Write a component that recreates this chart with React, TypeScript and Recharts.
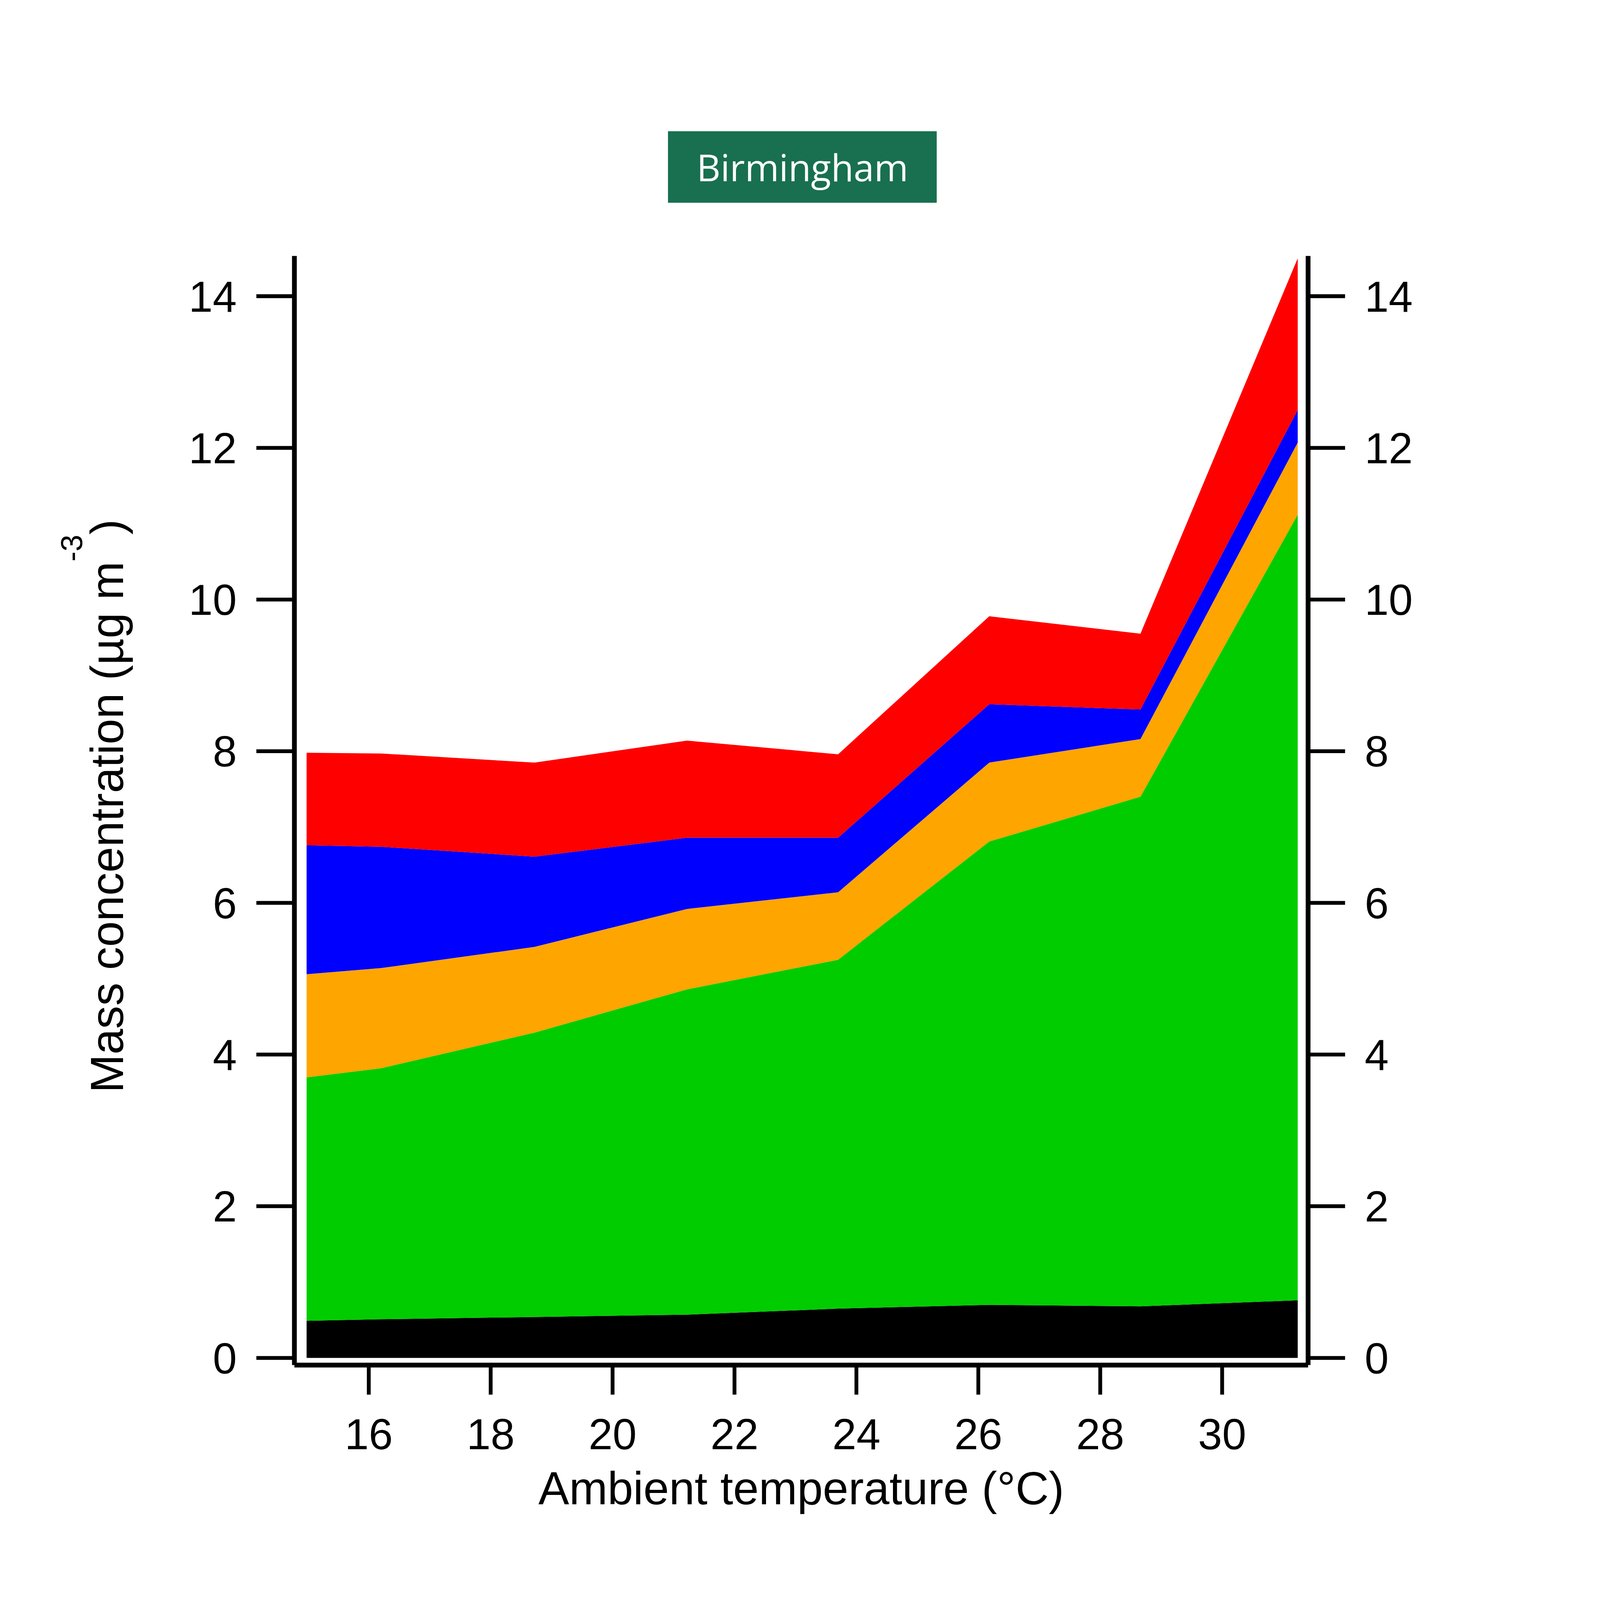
import { AreaChart, Area, XAxis, YAxis } from "recharts";

// temperature bins (°C) and the mass of each component (µg m-3), bottom to top
const temps = [14.98, 16.2, 18.72, 21.22, 23.7, 26.18, 28.66, 31.24];
const black = [0.49, 0.51, 0.54, 0.57, 0.65, 0.7, 0.68, 0.76];
const green = [3.21, 3.31, 3.75, 4.29, 4.6, 6.11, 6.72, 10.36];
const orange = [1.36, 1.32, 1.13, 1.06, 0.89, 1.04, 0.76, 0.95];
const blue = [1.7, 1.6, 1.19, 0.94, 0.72, 0.77, 0.39, 0.43];
const red = [1.22, 1.23, 1.24, 1.28, 1.1, 1.16, 1.0, 2.0];

const xTicks = [16, 18, 20, 22, 24, 26, 28, 30];
const yTicks = [0, 2, 4, 6, 8, 10, 12, 14];

const chartData = temps.map((t, i) => ({
    temp: t,
    black: black[i],
    green: green[i],
    orange: orange[i],
    blue: blue[i],
    red: red[i],
}));

const layers = [
    { key: "black", color: "#000000" },
    { key: "green", color: "#00CC00" },
    { key: "orange", color: "#FFA500" },
    { key: "blue", color: "#0000FF" },
    { key: "red", color: "#FF0000" },
];

// layout is designed for a 4500x5625 page and mapped onto the real viewport
const W = 4500;
const H = 5625;
const FONT = "'Liberation Sans', Arial, sans-serif";

export default function App() {
    const vw = window.innerWidth || W;
    const vh = window.innerHeight || H;
    const sx = vw / W;
    const sy = vh / H;
    const sf = Math.sqrt(sx * sy);

    const tickStyle = { fontSize: 136 * sf, fill: "#000", fontFamily: FONT };
    const axisLine = { stroke: "#000", strokeWidth: 15 * sf };
    const tickLine = { stroke: "#000", strokeWidth: 12 * sf };
    const yDomain = [-0.094, 14.53];

    const YLabel = () => {
        const x = 346 * sx;
        const y = 2834 * sy;
        return (
            <text
                x={x}
                y={y}
                transform={`rotate(-90, ${x}, ${y})`}
                textAnchor="middle"
                fontFamily={FONT}
                fontSize={145 * sf}
                fill="#000"
            >
                Mass concentration (µg m
                <tspan fontSize={95 * sf} dy={-115 * sx}>-3</tspan>
                <tspan dy={115 * sx}>)</tspan>
            </text>
        );
    };

    const XLabel = (props: any) => {
        const vb = props.viewBox;
        return (
            <text
                x={vb.x + vb.width / 2}
                y={vb.y + 490 * sy}
                textAnchor="middle"
                fontFamily={FONT}
                fontSize={145 * sf}
                fill="#000"
            >
                Ambient temperature (°C)
            </text>
        );
    };

    return (
        <div style={{ position: "absolute", left: 0, top: 0, width: vw, height: vh, background: "#fff", overflow: "hidden" }}>
            <div
                style={{
                    position: "absolute",
                    left: 1879 * sx,
                    top: 461 * sy,
                    width: 756 * sx,
                    height: 252 * sy,
                    background: "#187050",
                    color: "#fff",
                    fontFamily: "'Open Sans', sans-serif",
                    fontSize: 116 * sf,
                    display: "flex",
                    alignItems: "center",
                    justifyContent: "center",
                }}
            >
                Birmingham
            </div>
            <AreaChart width={vw} height={vh} data={chartData} margin={{ top: 900 * sy, right: 0, bottom: 0, left: 0 }}>
                <XAxis
                    dataKey="temp"
                    type="number"
                    domain={[14.78, 31.41]}
                    ticks={xTicks}
                    allowDataOverflow
                    height={826 * sy}
                    tick={tickStyle}
                    tickSize={104 * sy}
                    tickMargin={84 * sy}
                    axisLine={axisLine}
                    tickLine={tickLine}
                    label={<XLabel />}
                />
                <YAxis
                    yAxisId="left"
                    type="number"
                    domain={yDomain}
                    ticks={yTicks}
                    allowDataOverflow
                    width={828 * sx}
                    tick={tickStyle}
                    tickSize={107 * sx}
                    tickMargin={55 * sx}
                    axisLine={axisLine}
                    tickLine={tickLine}
                    label={<YLabel />}
                />
                <YAxis
                    yAxisId="right"
                    orientation="right"
                    type="number"
                    domain={yDomain}
                    ticks={yTicks}
                    allowDataOverflow
                    width={821 * sx}
                    tick={{ ...tickStyle, textAnchor: "start" }}
                    tickSize={104 * sx}
                    tickMargin={55 * sx}
                    axisLine={axisLine}
                    tickLine={tickLine}
                />
                {layers.map(l => (
                    <Area
                        key={l.key}
                        yAxisId="left"
                        type="linear"
                        dataKey={l.key}
                        stackId="mass"
                        fill={l.color}
                        fillOpacity={1}
                        stroke="none"
                        dot={false}
                        activeDot={false}
                        isAnimationActive={false}
                    />
                ))}
            </AreaChart>
        </div>
    );
}
